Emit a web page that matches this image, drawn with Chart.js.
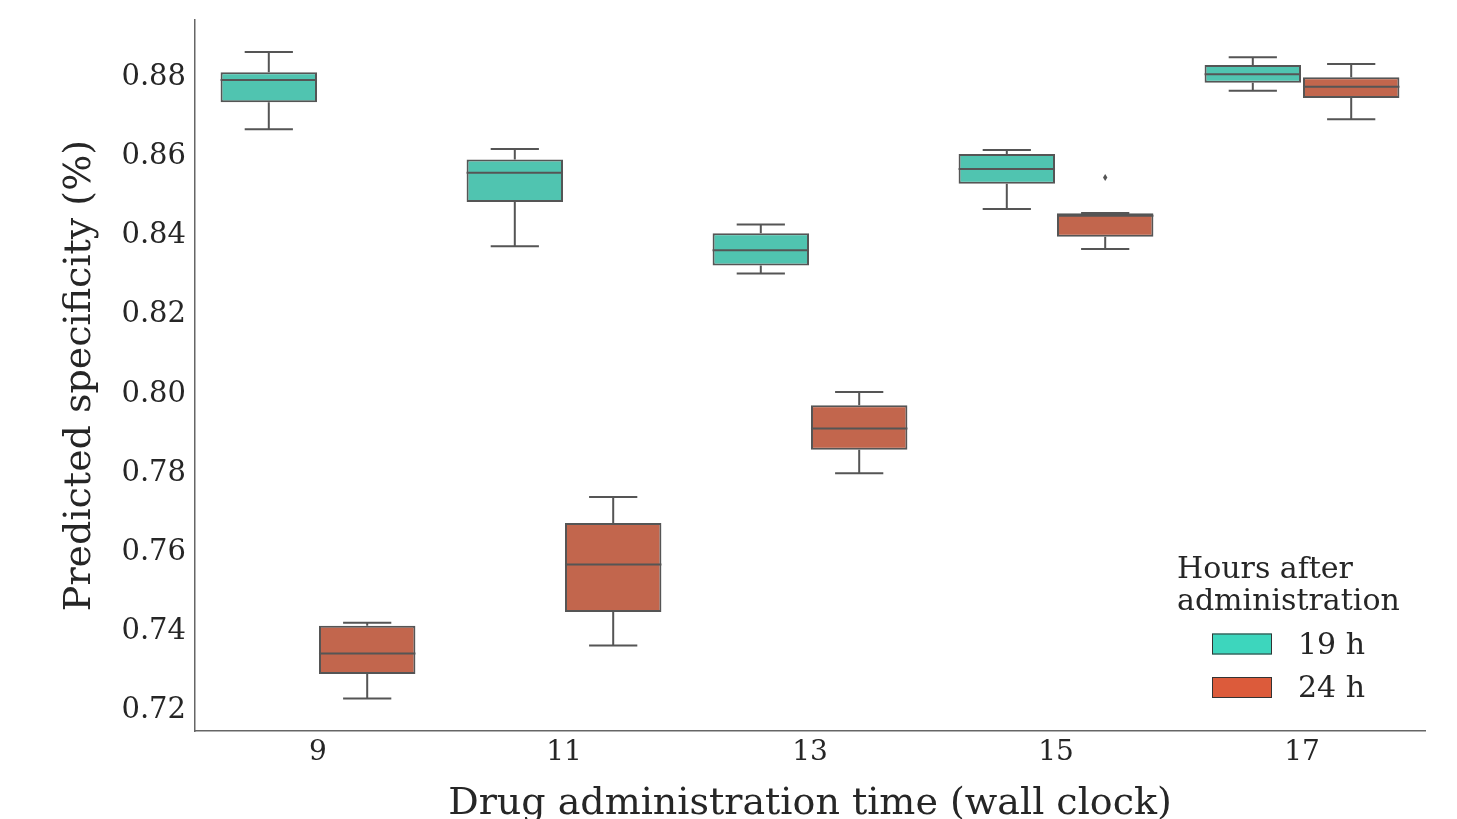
<!DOCTYPE html>
<html>
<head>
<meta charset="utf-8">
<script src="https://cdn.jsdelivr.net/npm/chart.js@4"></script>
<style>
  html, body { margin: 0; padding: 0; background: #ffffff; }
  #wrap { width: 1457px; height: 819px; position: relative; }
</style>
</head>
<body>
<div id="wrap"><canvas id="chart" width="1457" height="819"></canvas></div>
<script>
// Drug administration time (wall clock hour)
const categories = ['9', '11', '13', '15', '17'];

// Predicted specificity, 19 h after administration
const h19Low    = [0.8661, 0.8365, 0.8296, 0.8459, 0.8758];
const h19Q1     = [0.8729, 0.8477, 0.8316, 0.8523, 0.8778];
const h19Median = [0.8785, 0.8551, 0.8355, 0.8560, 0.8800];
const h19Q3     = [0.8805, 0.8584, 0.8398, 0.8598, 0.8823];
const h19High   = [0.8856, 0.8611, 0.8420, 0.8608, 0.8843];
const h19Out    = [[], [], [], [], []];

// Predicted specificity, 24 h after administration
const h24Low    = [0.7221, 0.7355, 0.7791, 0.8358, 0.8686];
const h24Q1     = [0.7283, 0.7440, 0.7850, 0.8389, 0.8740];
const h24Median = [0.7335, 0.7560, 0.7904, 0.8442, 0.8768];
const h24Q3     = [0.7405, 0.7665, 0.7963, 0.8448, 0.8792];
const h24High   = [0.7413, 0.7731, 0.7996, 0.8449, 0.8826];
const h24Out    = [[], [], [], [0.8539], []];

const yTicks = [0.72, 0.74, 0.76, 0.78, 0.80, 0.82, 0.84, 0.86, 0.88];

const seriesLabels = ['19 h', '24 h'];
const legendColors = ['#3dd6bd', '#dc5b3b'];
const boxColors    = ['#50c4b0', '#c2664d'];
const lineGrey = '#555555';
const textColor = '#262626';
const FONT = "'DejaVu Serif', serif";

const stats = [
  { low: h19Low, q1: h19Q1, med: h19Median, q3: h19Q3, high: h19High, out: h19Out },
  { low: h24Low, q1: h24Q1, med: h24Median, q3: h24Q3, high: h24High, out: h24Out }
];

// Whiskers, caps, medians and fliers drawn on top of the floating box bars
const boxExtras = {
  id: 'boxExtras',
  afterDatasetsDraw(chart) {
    const ctx = chart.ctx;
    const y = chart.scales.y;
    ctx.save();
    ctx.strokeStyle = lineGrey;
    ctx.fillStyle = lineGrey;
    ctx.lineWidth = 2;
    ctx.lineCap = 'butt';
    chart.data.datasets.forEach((ds, di) => {
      const meta = chart.getDatasetMeta(di);
      const s = stats[di];
      meta.data.forEach((bar, i) => {
        const cx = bar.x;
        const w = bar.width;
        const cap = w / 4;
        const pLow = y.getPixelForValue(s.low[i]);
        const pQ1 = y.getPixelForValue(s.q1[i]);
        const pMed = y.getPixelForValue(s.med[i]);
        const pQ3 = y.getPixelForValue(s.q3[i]);
        const pHigh = y.getPixelForValue(s.high[i]);
        ctx.beginPath();
        // lower whisker
        ctx.moveTo(cx, pQ1); ctx.lineTo(cx, pLow);
        ctx.moveTo(cx - cap, pLow); ctx.lineTo(cx + cap, pLow);
        // upper whisker
        ctx.moveTo(cx, pQ3); ctx.lineTo(cx, pHigh);
        ctx.moveTo(cx - cap, pHigh); ctx.lineTo(cx + cap, pHigh);
        // median
        ctx.moveTo(cx - w / 2, pMed); ctx.lineTo(cx + w / 2, pMed);
        ctx.stroke();
        // fliers as small diamonds
        s.out[i].forEach(v => {
          const py = y.getPixelForValue(v);
          ctx.beginPath();
          ctx.moveTo(cx, py - 3.5);
          ctx.lineTo(cx + 2.2, py);
          ctx.lineTo(cx, py + 3.5);
          ctx.lineTo(cx - 2.2, py);
          ctx.closePath();
          ctx.fill();
        });
      });
    });
    ctx.restore();
  }
};

// Legend with a two-line title placed inside the plot area
const insideLegend = {
  id: 'insideLegend',
  afterDraw(chart) {
    const ctx = chart.ctx;
    const area = chart.chartArea;
    const x0 = area.right - 248;
    ctx.save();
    ctx.font = `30px ${FONT}`;
    ctx.fillStyle = textColor;
    ctx.textAlign = 'left';
    ctx.textBaseline = 'middle';
    ctx.fillText('Hours after', x0, area.top + 550);
    ctx.fillText('administration', x0, area.top + 582);
    chart.data.datasets.forEach((ds, i) => {
      const cy = area.top + 624 + i * 43.5;
      ctx.fillStyle = legendColors[i];
      ctx.fillRect(x0 + 35, cy - 10.5, 60, 21);
      ctx.strokeStyle = '#333333';
      ctx.lineWidth = 1;
      ctx.strokeRect(x0 + 35.5, cy - 10, 59, 20);
      ctx.fillStyle = textColor;
      ctx.fillText(ds.label, x0 + 121, cy + 2);
    });
    ctx.restore();
  }
};

new Chart(document.getElementById('chart'), {
  type: 'bar',
  data: {
    labels: categories,
    datasets: stats.map((s, i) => ({
      label: seriesLabels[i],
      data: s.q1.map((q, k) => [q, s.q3[k]]),
      backgroundColor: boxColors[i],
      borderColor: lineGrey,
      borderWidth: 2,
      borderSkipped: false,
      categoryPercentage: 0.8,
      barPercentage: 0.98
    }))
  },
  options: {
    responsive: false,
    animation: false,
    devicePixelRatio: 1,
    layout: { padding: { top: 20, right: 32, left: 0, bottom: 0 } },
    plugins: {
      legend: { display: false },
      tooltip: { enabled: false }
    },
    scales: {
      x: {
        grid: { display: false, drawTicks: false },
        border: { display: true, color: '#666666', width: 1.5 },
        ticks: { color: textColor, font: { family: FONT, size: 28 }, padding: 5 },
        title: {
          display: true,
          text: 'Drug administration time (wall clock)',
          color: textColor,
          font: { family: FONT, size: 38, lineHeight: 1 },
          padding: { top: 0, bottom: -4 }
        },
        afterFit(scale) { scale.height = 88; }
      },
      y: {
        min: 0.7139,
        max: 0.8937,
        grid: { display: false, drawTicks: false },
        border: { display: true, color: '#666666', width: 1.5 },
        ticks: {
          color: textColor,
          font: { family: FONT, size: 29 },
          padding: 9,
          labelOffset: 3.5,
          callback: v => v.toFixed(2)
        },
        afterBuildTicks(scale) { scale.ticks = yTicks.map(v => ({ value: v })); },
        title: {
          display: true,
          text: 'Predicted specificity (%)',
          color: textColor,
          font: { family: FONT, size: 38, lineHeight: 1.2 },
          padding: { top: 57, bottom: 0 }
        },
        afterFit(scale) {
          scale.width = 195;
          scale.paddingTop = 0;
          scale.paddingBottom = 0;
        }
      }
    }
  },
  plugins: [boxExtras, insideLegend]
});
</script>
</body>
</html>
